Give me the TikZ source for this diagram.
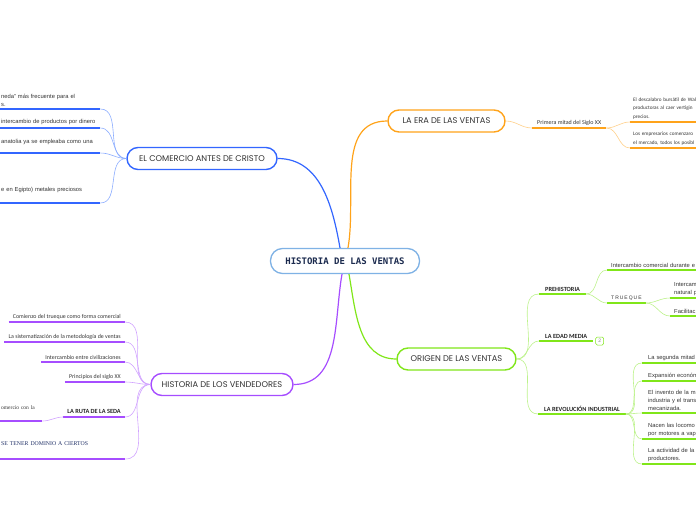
\documentclass[tikz,border=0pt]{standalone}
\usepackage{fontspec}
\setmainfont{Liberation Sans}
\newfontfamily\boxfont{Poppins}
\newfontfamily\hubfont{DejaVu Sans Mono}
\newfontfamily\narrowfont{Carlito}
\newfontfamily\oldfont{Liberation Serif}
\usetikzlibrary{positioning}

\definecolor{hubline}{HTML}{7FB2E5}
\definecolor{hubtext}{HTML}{1B2A4E}
\definecolor{cblue}{HTML}{3366FF}
\definecolor{lblue}{HTML}{8CADFF}
\definecolor{corange}{HTML}{FFA31A}
\definecolor{lorange}{HTML}{FFD08A}
\definecolor{cgreen}{HTML}{80E619}
\definecolor{lgreen}{HTML}{BDF28C}
\definecolor{cpurple}{HTML}{A64DFF}
\definecolor{lpurple}{HTML}{D1A3FF}
\definecolor{inkgray}{HTML}{333333}
\definecolor{navy}{HTML}{1F2F66}

\tikzset{
  hub/.style={draw=hubline, line width=1.3pt, fill=white, rounded corners=12pt,
    minimum width=149pt, minimum height=25pt, text=hubtext,
    font=\hubfont\bfseries\fontsize{9}{10}\selectfont},
  topic/.style={draw=#1, line width=1.4pt, fill=white, rounded corners=11pt,
    minimum height=22pt, text=inkgray, font=\boxfont\fontsize{8.3}{9}\selectfont},
  branch/.style={draw=#1, line width=1.2pt},
  twig/.style={draw=#1, line width=0.6pt},
  uline/.style={draw=#1, line width=1.5pt},
  leaf/.style={inner xsep=3pt, inner ysep=#1, align=left, text=inkgray,
    font=\fontsize{5.8}{8}\selectfont},
  leaf/.default=2pt,
  narrow/.style={leaf=#1, font=\narrowfont\fontsize{5.9}{8.5}\selectfont},
  narrow/.default=2pt,
  head/.style={leaf=#1, text=black!85, font=\narrowfont\bfseries\fontsize{6.3}{8}\selectfont},
  head/.default=2pt,
  badge/.style={draw=cgreen, line width=0.5pt, rounded corners=1.5pt, minimum size=8pt,
    inner sep=0pt, text=gray, font=\fontsize{5}{5}\selectfont},
}

\begin{document}
\begin{tikzpicture}[x=1pt, y=1pt]
  \useasboundingbox (0,0) rectangle (696,520);
  \clip (0,0) rectangle (696,520);

  % centre and the four main topics
  \node[hub] (hub) at (345,259) {HISTORIA DE LAS VENTAS};
  \node[topic=cblue, minimum width=150pt] (comm) at (202,361.5) {EL COMERCIO ANTES DE CRISTO};
  \node[topic=corange, minimum width=117pt] (era) at (446.5,399) {LA ERA DE LAS VENTAS};
  \node[topic=cgreen, minimum width=119pt] (orig) at (456.5,161) {ORIGEN DE LAS VENTAS};
  \node[topic=cpurple, minimum width=142pt] (vend) at (222,135.5) {HISTORIA DE LOS VENDEDORES};

  \draw[branch=cblue] ([xshift=-5pt]hub.north) to[out=100, in=0] (comm.east);
  \draw[branch=corange] ([xshift=3pt]hub.north) to[out=80, in=180] (era.west);
  \draw[branch=cgreen] ([xshift=4pt]hub.south) to[out=-80, in=180] (orig.west);
  \draw[branch=cpurple] ([xshift=-3pt]hub.south) to[out=-100, in=0] (vend.east);

  % el comercio antes de cristo
  \node[leaf, anchor=south west, inner xsep=1pt, text width=98pt] (b1) at (0,411) {neda" más frecuente para el\\s.};
  \node[leaf=3.5pt, anchor=south west, inner xsep=1pt, text width=98pt] (b2) at (0,392) {intercambio de productos por dinero};
  \node[leaf=8.5pt, anchor=south west, inner xsep=1pt, text width=98pt] (b3) at (0,367) {anatolia ya se empleaba como una};
  \node[leaf=10.5pt, anchor=south west, inner xsep=1pt, text width=98pt] (b4) at (0,317) {e en Egipto) metales preciosos};
  \foreach \n in {b1,b2,b3,b4} {
    \draw[uline=cblue] (\n.south west) -- (\n.south east);
    \draw[twig=lblue] (comm.west) to[out=180, in=0] (\n.south east);
  }

  % historia de los vendedores
  \node[narrow, anchor=south east, inner xsep=4pt] (p1) at (125,198) {Comienzo del trueque como forma comercial};
  \node[narrow, anchor=south east, inner xsep=4pt] (p2) at (125,178) {La sistematización de la metodología de ventas};
  \node[narrow, anchor=south east, inner xsep=4pt] (p3) at (125,158) {Intercambio entre civilizaciones};
  \node[narrow, anchor=south east, inner xsep=4pt] (p4) at (125,138) {Principios del siglo XX};
  \node[head=3pt, anchor=south east, inner xsep=4pt] (p5) at (125,103) {LA RUTA DE LA SEDA};
  \node[leaf=11pt, anchor=south west, inner xsep=1pt, text width=40pt,
    font=\oldfont\fontsize{5.5}{8}\selectfont] (p5a) at (0,99) {omercio con la};
  \node[leaf=13pt, anchor=south west, inner xsep=1pt, text width=123pt, text=navy,
    font=\oldfont\fontsize{5.8}{8}\selectfont] (p6) at (0,61) {SE TENER DOMINIO A CIERTOS};
  \foreach \n in {p1,p2,p3,p4,p5,p6} {
    \draw[uline=cpurple] (\n.south west) -- (\n.south east);
    \draw[twig=lpurple] (vend.west) to[out=180, in=0] (\n.south east);
  }
  \draw[uline=cpurple] (p5a.south west) -- (p5a.south east);
  \draw[twig=lpurple] (p5.south west) to[out=180, in=0] (p5a.south east);

  % la era de las ventas
  \node[narrow, anchor=south west, inner xsep=5pt,
    font=\narrowfont\fontsize{6}{8}\selectfont] (o1) at (532,392) {Primera mitad del Siglo XX};
  \node[narrow=2.5pt, anchor=south west, text width=74pt,
    font=\narrowfont\fontsize{5.2}{8.5}\selectfont] (o2) at (630,398) {El descalabro bursátil de Wal\\productoras al caer vertigin\\precios.};
  \node[narrow=2.5pt, anchor=south west, text width=74pt,
    font=\narrowfont\fontsize{5.2}{8.5}\selectfont] (o3) at (630,372) {Los empresarios comenzaro\\el mercado, todos los posibl};
  \draw[uline=corange] (o1.south west) -- (o1.south east);
  \draw[twig=lorange] (era.east) to[out=0, in=180] (o1.south west);
  \foreach \n in {o2,o3} {
    \draw[uline=corange] (\n.south west) -- (\n.south east);
    \draw[twig=lorange] (o1.south east) to[out=0, in=180] (\n.south west);
  }

  % origen de las ventas
  \node[head, anchor=south west, inner xsep=6pt] (g1) at (539,226) {PREHISTORIA};
  \node[head, anchor=south west, inner xsep=6pt] (g2) at (539,179) {LA EDAD MEDIA};
  \node[badge, right=2pt of g2.south east] (g2n) {2};
  \node[head, anchor=south west, inner xsep=6pt] (g3) at (538,106) {LA REVOLUCIÓN INDUSTRIAL};
  \foreach \n in {g1,g2,g3} {
    \draw[uline=cgreen] (\n.south west) -- (\n.south east);
    \draw[twig=lgreen] (orig.east) to[out=0, in=180] (\n.south west);
  }

  \node[leaf, anchor=south west, inner xsep=4pt, text width=100pt] (g1a) at (607,250) {Intercambio comercial durante e};
  \node[leaf, anchor=south west, inner xsep=4pt,
    font=\fontsize{5}{8}\selectfont\addfontfeature{LetterSpace=20}] (g1b) at (607,217) {TRUEQUE};
  \foreach \n in {g1a,g1b} {
    \draw[uline=cgreen] (\n.south west) -- (\n.south east);
    \draw[twig=lgreen] (g1.south east) to[out=0, in=180] (\n.south west);
  }
  \node[leaf, anchor=south west, inner xsep=4pt, text width=40pt] (g1b1) at (670,222) {Intercam\\natural p};
  \node[leaf, anchor=south west, inner xsep=4pt, text width=40pt] (g1b2) at (670,204) {Facilitac};
  \foreach \n in {g1b1,g1b2} {
    \draw[uline=cgreen] (\n.south west) -- (\n.south east);
    \draw[twig=lgreen] (g1b.south east) to[out=0, in=180] (\n.south west);
  }

  \node[leaf, anchor=south west, inner xsep=6pt, text width=70pt] (g3a) at (642,157) {La segunda mitad};
  \node[leaf, anchor=south west, inner xsep=6pt, text width=70pt] (g3b) at (642,139) {Expansión económ};
  \node[leaf, anchor=south west, inner xsep=6pt, text width=70pt] (g3c) at (642,107) {El invento de la m\\industria y el trans\\mecanizada.};
  \node[leaf, anchor=south west, inner xsep=6pt, text width=70pt] (g3d) at (642,81) {Nacen las locomo\\por motores a vap};
  \node[leaf, anchor=south west, inner xsep=6pt, text width=70pt] (g3e) at (642,56) {La actividad de la\\productores.};
  \foreach \n in {g3a,g3b,g3c,g3d,g3e} {
    \draw[uline=cgreen] (\n.south west) -- (\n.south east);
    \draw[twig=lgreen] (g3.south east) to[out=0, in=180] (\n.south west);
  }
\end{tikzpicture}
\end{document}
